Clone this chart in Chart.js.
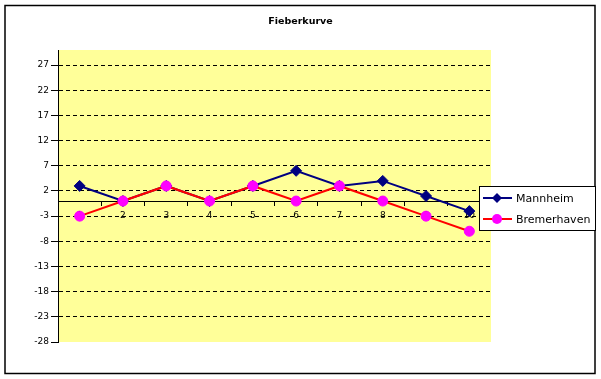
<!DOCTYPE html>
<html lang="de">
<head>
  <meta charset="UTF-8">
  <title>Fieberkurve</title>
  <style>
    body { margin: 0; background: #fff; }
    canvas { display: block; }
  </style>
</head>
<body>
  <canvas id="chart" width="601" height="379"></canvas>

  <script src="https://cdn.jsdelivr.net/npm/chart.js"></script>
  <script>
// data
const categories = ['1', '2', '3', '4', '5', '6', '7', '8', '9', '10'];
const mannheim = [3, 0, 3, 0, 3, 6, 3, 4, 1, -2];
const bremerhaven = [-3, 0, 3, 0, 3, 0, 3, 0, -3, -6];
const yTicks = [-28, -23, -18, -13, -8, -3, 2, 7, 12, 17, 22, 27];

const font = 'DejaVu Sans';

// yellow plot area + outer frame
const frame = {
  id: 'frame',
  beforeDraw(chart) {
    const { ctx, chartArea: a } = chart;
    ctx.save();
    ctx.fillStyle = '#fff';
    ctx.fillRect(0, 0, chart.width, chart.height);
    ctx.fillStyle = '#FFFF99';
    ctx.fillRect(a.left, a.top, a.right - a.left, a.bottom - a.top);
    ctx.strokeStyle = '#000';
    ctx.lineWidth = 1.5;
    ctx.strokeRect(5, 5.5, 590, 368);
    ctx.restore();
  }
};

// legend box sitting over the right edge of the plot
const legendBox = {
  id: 'legendBox',
  afterDraw(chart) {
    const ctx = chart.ctx;
    ctx.save();
    ctx.fillStyle = '#fff';
    ctx.fillRect(479, 186, 116, 44);
    ctx.strokeStyle = '#000';
    ctx.lineWidth = 1;
    ctx.strokeRect(479.5, 186.5, 116, 44);

    chart.data.datasets.forEach((ds, i) => {
      const y = 198 + i * 21;
      ctx.strokeStyle = ds.borderColor;
      ctx.lineWidth = 2;
      ctx.beginPath();
      ctx.moveTo(483, y);
      ctx.lineTo(512, y);
      ctx.stroke();
      ctx.fillStyle = ds.pointBackgroundColor;
      ctx.beginPath();
      if (ds.pointStyle === 'rectRot') {
        ctx.moveTo(497, y - 5);
        ctx.lineTo(502, y);
        ctx.lineTo(497, y + 5);
        ctx.lineTo(492, y);
        ctx.closePath();
      } else {
        ctx.arc(497, y, 5, 0, Math.PI * 2);
      }
      ctx.fill();
      ctx.fillStyle = '#000';
      ctx.font = '11px "' + font + '"';
      ctx.textBaseline = 'middle';
      ctx.fillText(ds.label, 516, y + 1);
    });
    ctx.restore();
  }
};

new Chart(document.getElementById('chart'), {
  type: 'line',
  data: {
    labels: categories,
    datasets: [{
      label: 'Mannheim',
      data: mannheim,
      borderColor: '#000080',
      borderWidth: 2,
      pointStyle: 'rectRot',
      pointRadius: 5.5,
      pointBackgroundColor: '#000080',
      pointBorderColor: '#000080',
      pointBorderWidth: 1,
      order: 1
    }, {
      label: 'Bremerhaven',
      data: bremerhaven,
      borderColor: '#FF0000',
      borderWidth: 2,
      pointStyle: 'circle',
      pointRadius: 5,
      pointBackgroundColor: '#FF00FF',
      pointBorderColor: '#FF00FF',
      pointBorderWidth: 1,
      order: 0
    }]
  },
  options: {
    responsive: false,
    animation: false,
    devicePixelRatio: 1,
    layout: { padding: { top: 0, left: 0, right: 0, bottom: 37 } },
    plugins: {
      legend: { display: false },
      tooltip: { enabled: false },
      title: {
        display: true,
        text: 'Fieberkurve',
        color: '#000',
        font: { family: font, size: 9.5, weight: 'bold' },
        padding: { top: 16, bottom: 22.6 }
      }
    },
    scales: {
      x: {
        type: 'category',
        offset: true,
        position: { y: 0 },
        grid: {
          offset: true,
          drawOnChartArea: false,
          drawTicks: true,
          tickLength: 4,
          color: '#000'
        },
        border: { display: true, color: '#000', width: 1 },
        ticks: {
          color: '#000',
          padding: 5,
          maxRotation: 0,
          autoSkip: false,
          font: { family: font, size: 9 }
        }
      },
      y: {
        min: -28,
        max: 30,
        afterFit(scale) { scale.width = 58; },
        afterBuildTicks(scale) { scale.ticks = yTicks.map(v => ({ value: v })); },
        grid: {
          color: c => (c.tick && c.tick.value === -28) ? 'rgba(0,0,0,0)' : '#000',
          tickColor: '#000',
          tickLength: 7,
          tickBorderDash: [],
          lineWidth: 1
        },
        border: { display: true, color: '#000', width: 1, dash: [4, 3] },
        ticks: {
          color: '#000',
          padding: 2,
          autoSkip: false,
          font: { family: font, size: 9 }
        }
      },
      // empty axis on the right, only reserves the space under the legend
      yRight: {
        position: 'right',
        min: -28,
        max: 30,
        afterFit(scale) { scale.width = 110; },
        grid: { drawOnChartArea: false, drawTicks: false },
        border: { display: false },
        ticks: { display: false }
      }
    }
  },
  plugins: [frame, legendBox]
});
  </script>
</body>
</html>
